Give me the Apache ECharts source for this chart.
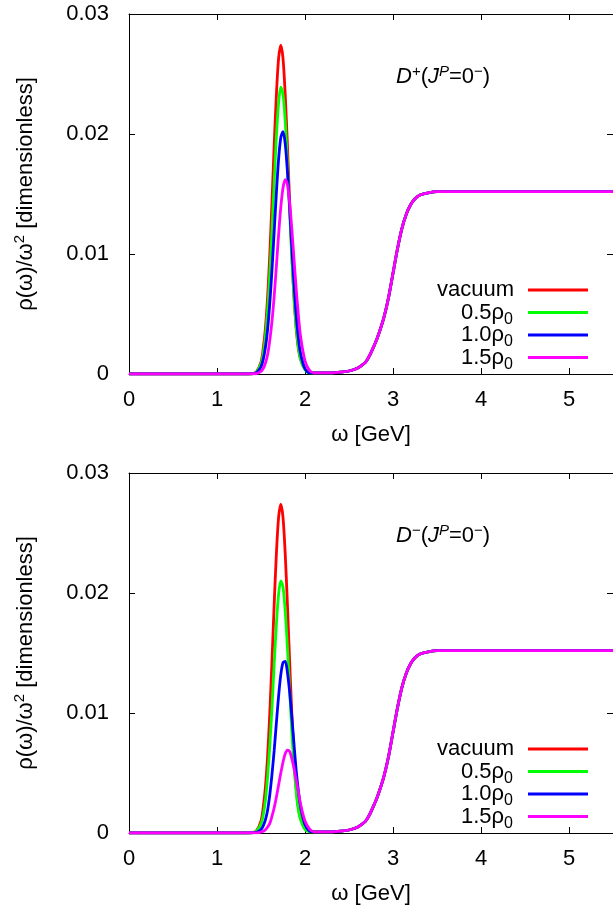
<!DOCTYPE html>
<html>
<head>
<meta charset="utf-8">
<title>D meson spectral function</title>
<style>
html, body { margin: 0; padding: 0; background: #fff; }
#main { width: 613px; height: 909px; }
</style>
</head>
<body>
<div id="main"></div>
<script src="https://cdn.jsdelivr.net/npm/echarts@6/dist/echarts.min.js"></script>
<script>
// omega grid [GeV]
var omegaLow = [0, 0.5, 1.0, 1.3, 1.4];
var lowVals = [0, 0, 0, 0, 0.00002];

var omegaPeak = [1.45, 1.5, 1.525, 1.55, 1.575, 1.6, 1.625, 1.65, 1.675, 1.7, 1.725, 1.75,
                 1.775, 1.8, 1.825, 1.85, 1.875, 1.9, 1.925, 1.95, 2.0, 2.05, 2.1];

// D+ (upper panel)
var plusVacuum  = [.0002, .0010, .0021, .0038, .0064, .0100, .0144, .0191, .0233, .0263, .0274, .0263,
                   .0233, .0191, .0144, .0100, .0064, .0038, .0021, .0012, .0004, .00015, .0001];
var plusHalf    = [.00018, .00087, .0017, .0031, .0053, .0083, .0120, .0160, .0198, .0226, .0239, .0233,
                   .0211, .0176, .0136, .0097, .0064, .0039, .0022, .0012, .00035, .0001, .0001];
var plusOne     = [.00012, .0006, .0012, .0022, .0037, .0059, .0087, .0119, .0151, .0179, .0197, .0202,
                   .0192, .0169, .0139, .0106, .0075, .0049, .0030, .0017, .00044, .0001, .0001];
var plusOneHalf = [.00004, .00022, .00046, .0009, .0016, .0028, .0044, .0065, .0090, .0116, .0139, .0155,
                   .0162, .0158, .0143, .0121, .0096, .0071, .0049, .0031, .0011, .0003, .0001];

// D- (lower panel)
var minusVacuum  = [.0002, .0010, .0021, .0038, .0064, .0100, .0144, .0191, .0233, .0263, .0274, .0263,
                    .0233, .0191, .0144, .0100, .0064, .0038, .0021, .0012, .0004, .00015, .0001];
var minusHalf    = [.00016, .00076, .0015, .0027, .0047, .0073, .0105, .0141, .0174, .0199, .0210, .0205,
                    .0185, .0155, .0120, .0085, .0056, .0034, .0019, .0011, .0003, .0001, .0001];
var minusOne     = [.00006, .0003, .0006, .0011, .0019, .0032, .0049, .0069, .0092, .0114, .0132, .0142,
                    .0143, .0134, .0118, .0097, .0074, .0052, .0035, .0022, .0007, .00016, .0001];
var minusOneHalf = [.00001, .00007, .00014, .00027, .0005, .0008, .0014, .0021, .0030, .0040, .0050, .0059,
                    .0066, .0069, .0068, .0062, .0054, .0044, .0034, .0024, .0010, .00035, .0001];

// continuum, common to all curves
var omegaHigh = [2.2, 2.3, 2.4, 2.5, 2.6, 2.7, 2.8, 2.85, 2.9, 2.95, 3.0, 3.05, 3.1, 3.15, 3.2, 3.25,
                 3.3, 3.4, 3.5, 3.75, 4.0, 4.5, 5.0, 5.5];
var contVals  = [.0001, .0001, .00015, .00025, .0005, .0011, .0026, .0036, .0048, .0064, .0084, .0104,
                 .0121, .0133, .0141, .0146, .0149, .0151, .0152, .0152, .0152, .0152, .0152, .0152];

var xTicks = [0, 1, 2, 3, 4, 5];
var yTicks = [0, 0.01, 0.02, 0.03];

var names = ['vacuum', '0.5ρ0', '1.0ρ0', '1.5ρ0'];
var keyMain = ['vacuum', '0.5ρ', '1.0ρ', '1.5ρ'];
var keySub = ['', '0', '0', '0'];
var colors = ['#ff0000', '#00ff00', '#0000ff', '#ff00ff'];
var plusCurves = [plusVacuum, plusHalf, plusOne, plusOneHalf];
var minusCurves = [minusVacuum, minusHalf, minusOne, minusOneHalf];

var FONT = '"Liberation Sans", Arial, Helvetica, sans-serif';
var FS = 22;

function curve(peak) {
    return omegaLow.map(function (w, i) { return [w, lowVals[i]]; })
        .concat(omegaPeak.map(function (w, i) { return [w, peak[i]]; }))
        .concat(omegaHigh.map(function (w, i) { return [w, contVals[i]]; }));
}

var grids = [
    { left: 129, top: 14, width: 488, height: 360 },
    { left: 129, top: 473, width: 488, height: 360 }
];

var xAxes = [], yAxes = [];
grids.forEach(function (g, gi) {
    xAxes.push({
        type: 'value', gridIndex: gi, min: 0, max: 5.5, interval: 1,
        name: 'ω [GeV]', nameLocation: 'middle', nameGap: 50,
        nameTextStyle: { color: '#000', fontSize: FS, fontFamily: FONT },
        axisLine: { onZero: false, lineStyle: { color: '#000', width: 1 } },
        axisTick: { inside: true, length: 6, lineStyle: { color: '#000' } },
        axisLabel: {
            color: '#000', fontSize: FS, fontFamily: FONT, margin: 15, showMaxLabel: false,
            formatter: function (v) { return xTicks.indexOf(v) >= 0 ? String(v) : ''; }
        },
        splitLine: { show: false }
    });
    xAxes.push({
        type: 'value', gridIndex: gi, position: 'top', min: 0, max: 5.5, interval: 1,
        axisLine: { onZero: false, lineStyle: { color: '#000', width: 1 } },
        axisTick: { inside: true, length: 6, lineStyle: { color: '#000' } },
        axisLabel: { show: false },
        splitLine: { show: false }
    });
    yAxes.push({
        type: 'value', gridIndex: gi, min: 0, max: 0.03, interval: 0.01,
        name: '{t|ρ(ω)/ω}{s|2}{t| [dimensionless]}', nameLocation: 'middle', nameGap: 92,
        nameTextStyle: {
            color: '#000', fontSize: FS, fontFamily: FONT,
            rich: {
                t: { fontSize: FS, fontFamily: FONT, color: '#000', verticalAlign: 'bottom', lineHeight: 25 },
                s: { fontSize: 15, fontFamily: FONT, color: '#000', verticalAlign: 'top', lineHeight: 12 }
            }
        },
        axisLine: { onZero: false, lineStyle: { color: '#000', width: 1 } },
        axisTick: { inside: true, length: 6, lineStyle: { color: '#000' } },
        axisLabel: {
            color: '#000', fontSize: FS, fontFamily: FONT, margin: 20,
            formatter: function (v) { return v === 0 ? '0' : v.toFixed(2); }
        },
        splitLine: { show: false }
    });
    yAxes.push({
        type: 'value', gridIndex: gi, position: 'right', min: 0, max: 0.03, interval: 0.01,
        axisLine: { onZero: false, lineStyle: { color: '#000', width: 1 } },
        axisTick: { inside: true, length: 6, lineStyle: { color: '#000' } },
        axisLabel: { show: false },
        splitLine: { show: false }
    });
});

var series = [];
[plusCurves, minusCurves].forEach(function (set, p) {
    set.forEach(function (vals, k) {
        series.push({
            name: names[k],
            type: 'line',
            xAxisIndex: p * 2,
            yAxisIndex: p * 2,
            data: curve(vals),
            smooth: 0.3,
            showSymbol: false,
            lineStyle: { color: colors[k], width: 2.8 },
            itemStyle: { color: colors[k] },
            z: 2 + k
        });
    });
});

// key (gnuplot style) and panel labels
var labelRich = {
    i: { fontSize: FS, fontFamily: FONT, fontStyle: 'italic', color: '#000', verticalAlign: 'bottom', lineHeight: 24 },
    b: { fontSize: FS, fontFamily: FONT, color: '#000', verticalAlign: 'bottom', lineHeight: 24 },
    p: { fontSize: 15, fontFamily: FONT, color: '#000', verticalAlign: 'top', lineHeight: 12 },
    pi: { fontSize: 15, fontFamily: FONT, fontStyle: 'italic', color: '#000', verticalAlign: 'top', lineHeight: 12 }
};
var keyRows = [290, 312.5, 335, 357.5];

var graphic = [];
[0, 459].forEach(function (dy, p) {
    keyMain.forEach(function (t, k) {
        var right = keySub[k] ? 504 : 514;
        graphic.push({
            type: 'text', x: right, y: keyRows[k] + dy, z: 10,
            style: { text: t, align: 'right', verticalAlign: 'middle', fontSize: FS, fontFamily: FONT, fill: '#000' }
        });
        if (keySub[k]) {
            graphic.push({
                type: 'text', x: right, y: keyRows[k] + dy + 7, z: 10,
                style: { text: keySub[k], align: 'left', verticalAlign: 'middle', fontSize: 16, fontFamily: FONT, fill: '#000' }
            });
        }
        graphic.push({
            type: 'line', z: 10,
            shape: { x1: 528, y1: keyRows[k] + dy, x2: 588, y2: keyRows[k] + dy },
            style: { stroke: colors[k], lineWidth: 2.8 }
        });
    });
    graphic.push({
        type: 'text', x: 396, y: 76 + dy, z: 10,
        style: {
            text: p === 0 ? '{i|D}{p|+}{b|(}{i|J}{pi|P}{b|=0}{p|−}{b|)}' : '{i|D}{p|−}{b|(}{i|J}{pi|P}{b|=0}{p|−}{b|)}',
            align: 'left', verticalAlign: 'middle', rich: labelRich
        }
    });
});

var myChart = echarts.init(document.getElementById('main'));
myChart.setOption({
    animation: false,
    backgroundColor: '#fff',
    grid: grids,
    xAxis: xAxes,
    yAxis: yAxes,
    series: series,
    graphic: graphic
});
</script>
</body>
</html>
